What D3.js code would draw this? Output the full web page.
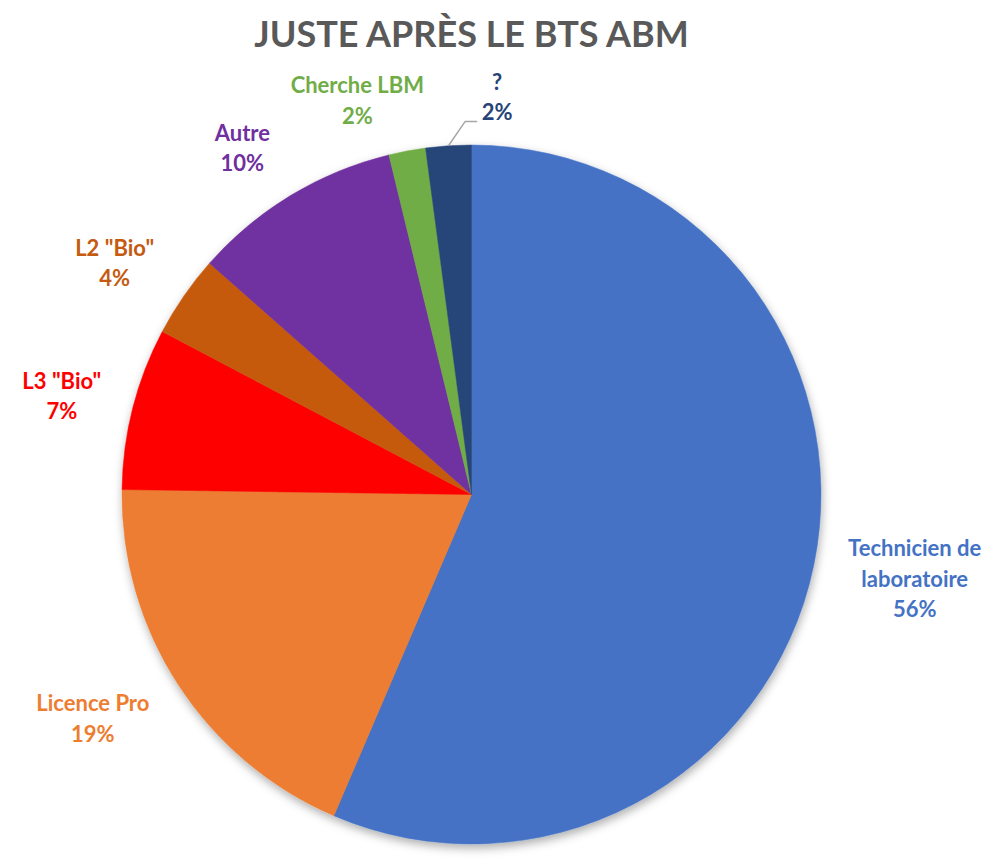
<!DOCTYPE html>
<html>
<head>
<meta charset="utf-8">
<script src="https://cdn.jsdelivr.net/npm/d3@7"></script>
<style>
  html, body { margin: 0; padding: 0; background: #fff; }
  svg { display: block; }
</style>
</head>
<body>
<svg id="chart" width="1001" height="863"></svg>
<script>
// ---- data ----
const categories = ["Technicien de laboratoire", "Licence Pro", "L3 \"Bio\"", "L2 \"Bio\"", "Autre", "Cherche LBM", "?"];
const values = [56.5, 18.8, 7.5, 3.8, 9.7, 1.7, 2.1];
const labelLines = [["Technicien de", "laboratoire"], ["Licence Pro"], ["L3 \"Bio\""], ["L2 \"Bio\""], ["Autre"], ["Cherche LBM"], ["?"]];
const colors = ["#4472C4", "#ED7D31", "#FF0000", "#C55A11", "#7030A0", "#70AD47", "#264478"];
const title = "JUSTE APRÈS LE BTS ABM";

// ---- layout ----
const W = 1001, H = 863;
const cx = 471.5, cy = 494.5, R = 349.5;
const labelR = 430;
const nudges = [[22, -2], [-18, -10], [7, 8], [-3, 13], [-7, 22], [-35, 29], [54, 32]];
const lineH = 30.5;
const font = "Lato, 'Open Sans', sans-serif";

const svg = d3.select("#chart");

const defs = svg.append("defs");
const f = defs.append("filter").attr("id", "shadow").attr("x", "-10%").attr("y", "-10%").attr("width", "120%").attr("height", "120%");
f.append("feDropShadow").attr("dx", 1).attr("dy", 4).attr("stdDeviation", 5)
  .attr("flood-color", "#000").attr("flood-opacity", 0.32);

svg.append("text")
  .attr("x", cx).attr("y", 47)
  .attr("text-anchor", "middle")
  .attr("font-family", font).attr("font-weight", 700).attr("font-size", 36)
  .attr("fill", "#595959")
  .text(title);

const data = categories.map((c, i) => ({ cat: c, value: values[i], i }));
const pie = d3.pie().sort(null).value(d => d.value);
const arcs = pie(data);
const total = d3.sum(values);

const arc = d3.arc().innerRadius(0).outerRadius(R);
const g = svg.append("g").attr("transform", `translate(${cx},${cy})`);

const slices = g.append("g").attr("filter", "url(#shadow)");
slices.selectAll("path").data(arcs).join("path")
  .attr("d", arc)
  .attr("fill", d => colors[d.data.i])
  .attr("stroke", d => colors[d.data.i])
  .attr("stroke-width", 0.5);

function polar(angle, r) { return [r * Math.sin(angle), -r * Math.cos(angle)]; }

const labels = g.append("g");
arcs.forEach(a => {
  const i = a.data.i;
  const mid = (a.startAngle + a.endAngle) / 2;
  const base = polar(mid, labelR);
  const lx = base[0] + nudges[i][0];
  const ly = base[1] + nudges[i][1];
  const lines = labelLines[i].concat([Math.round(a.data.value / total * 100) + "%"]);
  const n = lines.length;
  const t = labels.append("text")
    .attr("text-anchor", "middle")
    .attr("font-family", font).attr("font-weight", 700).attr("font-size", 22)
    .attr("fill", colors[i]);
  lines.forEach((ln, k) => {
    t.append("tspan").attr("x", lx)
      .attr("y", ly + (k - (n - 1) / 2) * lineH)
      .attr("dy", "0.35em")
      .text(ln);
  });
  if (i === 6) {
    const p0 = polar(mid, R);
    const endX = lx - 20, elbowY = ly + 24, elbowX = endX - 12;
    labels.append("path")
      .attr("d", d3.line()([p0, [elbowX, elbowY], [endX, elbowY]]))
      .attr("fill", "none").attr("stroke", "#A6A6A6").attr("stroke-width", 1.5);
  }
});
</script>
</body>
</html>
